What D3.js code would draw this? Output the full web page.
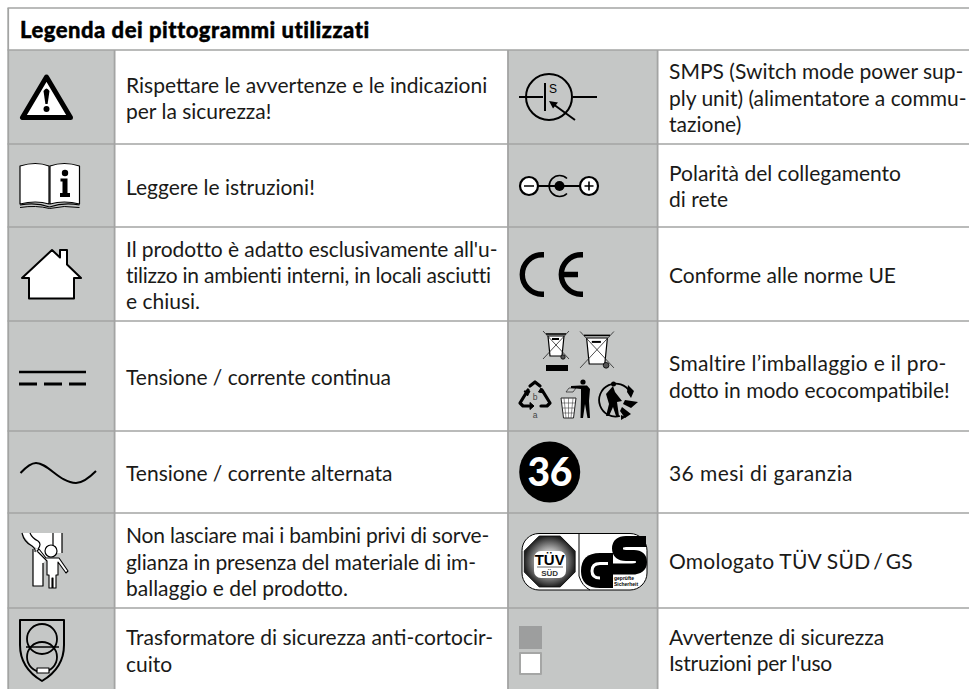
<!DOCTYPE html>
<html><head><meta charset="utf-8">
<script src="https://cdn.jsdelivr.net/npm/d3@7"></script>
<style>html,body{margin:0;padding:0;background:#fff}svg{display:block}</style>
</head><body><div id="c"></div>
<script>
const titleText = "Legenda dei pittogrammi utilizzati";
const leftLabels = [
  ["Rispettare le avvertenze e le indicazioni","per la sicurezza!"],
  ["Leggere le istruzioni!"],
  ["Il prodotto è adatto esclusivamente all'u-","tilizzo in ambienti interni, in locali asciutti","e chiusi."],
  ["Tensione / corrente continua"],
  ["Tensione / corrente alternata"],
  ["Non lasciare mai i bambini privi di sorve-","glianza in presenza del materiale di im-","ballaggio e del prodotto."],
  ["Trasformatore di sicurezza anti-cortocir-","cuito"]
];
const rightLabels = [
  ["SMPS (Switch mode power sup-","ply unit) (alimentatore a commu-","tazione)"],
  ["Polarità del collegamento","di rete"],
  ["Conforme alle norme UE"],
  ["Smaltire l’imballaggio e il pro-","dotto in modo ecocompatibile!"],
  ["36 mesi di garanzia"],
  ["Omologato TÜV SÜD\u2009/\u2009GS"],
  ["Avvertenze di sicurezza","Istruzioni per l'uso"]
];
const leftIcons = ["warning","book","house","dc","ac","child","shield"];
const rightIcons = ["smps","polarity","ce","recycle","m36","tuv","squares"];
const rowEdges = [50,144,227,321,431,513,608,700];

const W=969,H=689, GREY="#c5c7c6", LINE="#a3a4a3", INK="#1a1a18";
const FONT="Lato, 'Open Sans', sans-serif";
const svg=d3.select("#c").append("svg").attr("width",W).attr("height",H);
const rows=d3.range(7);
const rowTop=i=>rowEdges[i], rowBot=i=>rowEdges[i+1];
const colX={a:9,b:115,c:508,d:658};

// per-line right edges, to offset the substitute font's different letter widths
const lineEnds=new Map([
  ["tilizzo in ambienti interni, in locali asciutti",491],
  ["Non lasciare mai i bambini privi di sorve-",489],
  ["glianza in presenza del materiale di im-",476],
  ["Il prodotto è adatto esclusivamente all'u-",496],
  ["Smaltire l’imballaggio e il pro-",947],
  ["36 mesi di garanzia",853],
  ["Omologato TÜV SÜD\u2009/\u2009GS",913],
  ["Istruzioni per l'uso",832]
]);

// cells
const g=svg.append("g");
g.selectAll("rect.l").data(rows).join("rect").attr("class","l").attr("x",colX.a).attr("width",colX.b-colX.a).attr("y",rowTop).attr("height",i=>rowBot(i)-rowTop(i)).attr("fill",GREY);
g.selectAll("rect.r").data(rows).join("rect").attr("class","r").attr("x",colX.c).attr("width",colX.d-colX.c).attr("y",rowTop).attr("height",i=>rowBot(i)-rowTop(i)).attr("fill",GREY);
// lines
const hl=(y,w=1.6)=>g.append("line").attr("x1",7.5).attr("x2",W).attr("y1",y).attr("y2",y).attr("stroke",LINE).attr("stroke-width",w);
hl(8); rowEdges.slice(0,-1).forEach(y=>hl(y));
[[8.2,8],[114.6,50],[508,50],[657.6,50]].forEach(([x,y0])=>g.append("line").attr("x1",x).attr("x2",x).attr("y1",y0).attr("y2",H).attr("stroke",LINE).attr("stroke-width",1.8));

// title
svg.append("text").attr("x",20).attr("y",38).text(titleText).attr("font-family",FONT).attr("font-weight",900).attr("font-size",22).attr("letter-spacing",0.5).attr("fill","#000").attr("stroke","#000").attr("stroke-width",0.4);

// labels
function labels(data,x,off){
  const t=svg.append("g").attr("font-family",FONT).attr("font-size",21).attr("fill",INK);
  data.forEach((lines,i)=>{
    const cy=(rowTop(i)+Math.min(rowBot(i),691))/2;
    t.selectAll(null).data(lines).join("text").attr("x",x)
     .attr("y",(d,k)=>cy+off+(k-(lines.length-1)/2)*26.2).text(d=>d)
     .each(function(d){
       if(lineEnds.has(d)){
         const len=this.getComputedTextLength();
         d3.select(this).attr("letter-spacing",(lineEnds.get(d)-x-len)/d.length);
       }
     });
  });
}
labels(leftLabels,126,9);
labels(rightLabels,669,8.5);

const ic=svg.append("g").attr("stroke-linejoin","round");
const P=(d,o={})=>{const p=ic.append("path").attr("d",d).attr("fill",o.fill||"none").attr("stroke",o.stroke||"none").attr("stroke-width",o.w||0);if(o.cap)p.attr("stroke-linecap",o.cap);if(o.join)p.attr("stroke-linejoin",o.join);return p;};
const C=(x,y,r,o={})=>ic.append("circle").attr("cx",x).attr("cy",y).attr("r",r).attr("fill",o.fill||"none").attr("stroke",o.stroke||"none").attr("stroke-width",o.w||0);
const T=(s,x,y,sz,o={})=>ic.append("text").attr("x",x).attr("y",y).text(s).attr("font-size",sz).attr("font-family",o.font||"'Liberation Sans',sans-serif").attr("font-weight",o.wt||400).attr("text-anchor",o.a||"middle").attr("fill",o.fill||"#000");
const K="#000", Wh="#fff";
const icons={
 warning(){P("M46.5,77 L22.5,117.5 L70.5,117.5 Z",{fill:Wh,stroke:K,w:5});
   P("M43.5,91 Q46.5,86 49.5,91 L47.6,104 L45.4,104 Z",{fill:K});C(46.5,109,3,{fill:K});},
 book(){P("M20,166 Q36,161 49,166 L49,204 Q36,200 20,204 Z",{fill:Wh,stroke:K,w:1.2});
   P("M50,166 Q64,161 79.5,166 L79.5,204 Q64,200 50,204 Z",{fill:Wh,stroke:K,w:1.2});
   P("M20,205 Q36,202 49.5,207 Q64,202 79.5,205",{stroke:K,w:1.2});
   P("M20,207.5 Q36,205 49.5,208.5 Q64,205 79.5,207.5",{stroke:K,w:1});
   C(65,173,3.2,{fill:K});
   P("M60.5,178.5 H67.5 V193 H70 V197 H60 V193 H62.5 V181.5 H60.5 Z",{fill:K});},
 house(){P("M29,298.5 V278 H22 L52,250 L60,257.5 V250 H67 V264.5 L81,278 H74 V298.5 Z",{fill:Wh,stroke:K,w:2});},
 dc(){P("M19,372 H86",{stroke:K,w:2.6});P("M19,384 H37 M44,384 H62 M69,384 H86",{stroke:K,w:2.8});},
 ac(){P("M20.5,473 C27,466 31,463 36,463 C48,463 60,483 76,483 C83,483 90,477 96,471",{stroke:K,w:2});},
 child(){
   P("M22,533 H62 V553 H54 L43,563 V586 H33 V549 L38,549 Q28,544 22,533 Z",{fill:Wh});
   P("M33,549 V586 H43 V563 M62,533 V553 M53,533 V545",{stroke:K,w:1.2});
   P("M22,533 Q24,542 32,546 Q36,549 35,552 M30,533 Q32,538 38,541 Q42,544 38,549",{stroke:K,w:1.2});
   P("M37,551 L47,561 V575 H49 V588 H52 V578 H53 V588 H56 V575 H58 V562 L66,573 L68,571 L59,558 H46 L39,549 Z",{fill:Wh,stroke:K,w:1.1});
   C(51,551,6,{fill:Wh,stroke:K,w:1.2});},
 shield(){P("M20,620 H64 V645 Q64,668 42,681 Q20,668 20,645 Z",{stroke:K,w:2});
   C(42,639,15,{stroke:K,w:1.8});C(42,657,15,{stroke:K,w:1.8});
   P("M26,647 H59",{stroke:K,w:1.6});
   P("M37,668 H49 V673 H37 Z",{fill:Wh,stroke:K,w:1.2});},
 smps(){C(549,97,23,{stroke:K,w:2});P("M519,97 H543 M573,97 H597 M545,83 V111",{stroke:K,w:2});
   P("M575,120 L553,104",{stroke:K,w:2});P("M549,101 L558,102.5 L553,108.5 Z",{fill:K});
   T("S",553,93,12);},
 polarity(){P("M538,186 H580",{stroke:K,w:2});
   C(529,186,9,{fill:Wh,stroke:K,w:2.2});C(589,186,9,{fill:Wh,stroke:K,w:2.2});
   P("M524,186 H534 M584.5,186 H593.5 M589,181.5 V190.5",{stroke:K,w:1.6});
   P("M567,178.5 A10.5,10.5 0 1 0 567,193.5",{stroke:K,w:1.6});C(559.5,186,5,{fill:K});},
 ce(){P("M544,254.8 H542 A19.7,19.7 0 0 0 542,294.2 H544",{stroke:K,w:5.4});
   P("M583,254.8 H581 A19.7,19.7 0 0 0 581,294.2 H583 M561,274.5 H578",{stroke:K,w:5.4});},
 recycle(){
   const bin=(x,y,s)=>{const q=(a,b)=>`${x+a*s},${y+b*s}`;
     P(`M${q(-8,-10)} L${q(-6,10)} H${x+6*s} L${x+8*s},${y-10*s} Z`,{fill:Wh,stroke:K,w:1.2});
     P(`M${q(-10,-12)} H${x+10*s}`,{stroke:K,w:1.6});
     P(`M${q(-4,-7)} H${x+3*s}`,{stroke:K,w:2});
     C(x+7*s,y+11*s,2.2*s,{fill:"#555",stroke:K,w:.8});
     P(`M${q(-13,-15)} L${q(13,13)} M${q(13,-15)} L${q(-13,13)}`,{stroke:"#222",w:.8});};
   bin(556,346,1);bin(597,351,1.3);
   P("M546,365 H568 V371 H546 Z",{fill:K});
   P("M530,386 L535,382 L540,386 M542,390 L550,403 L547,406 H541 M529,406 H523 L520,403 L528,390",{stroke:K,w:3.2,cap:"round"});
   P("M541,388 L544,393 L538.5,392 Z M524,391 L530,391 L527.5,396 Z M534,406 L530,402.5 V409.5 Z",{fill:K,stroke:K,w:1});
   T("b",535,400,8.5,{fill:"#444"});T("a",535,418,8.5,{fill:"#444"});
   P("M561,398 H576 L573.5,418 H563.5 Z",{fill:Wh,stroke:"#222",w:1});
   P("M564,398 L566,418 M568.5,398 V418 M573,398 L571,418 M562,403 H575 M562.5,408 H574.5 M563,413 H574",{stroke:"#444",w:.6});
   P("M566,392 L569,388 H576 L573,392 Z",{stroke:"#333",w:.8});
   P("M571,386 L580,385.5 H587 L590,389 L589,401 L590,418 H587.5 L585,404 L583,418 H580.5 L581,398 V389 L571,388 Z",{fill:K});
   C(583,382,2.6,{fill:K});
   P("M630,392 A16.5,16.5 0 1 0 620,416",{stroke:K,w:1.8});
   P("M613,386 L606,394 L609,404 L606,416 H609 L613,407 L616,416 H619 L617,402 L622,401 L615,392 Z",{fill:K});C(613.5,384,2.5,{fill:K});
   P("M628,385 L634,391 L631,398 L627,392 Z M625,400 L638,402 L631,408 L623,404 Z M622,407 L631,414 L625,418 L620,411 Z",{fill:K});
   P("M621,415 L626,417 L621,420 Z",{fill:K});
 },
 m36(){C(549.7,472,30.5,{fill:K});T("36",549.7,486,39,{fill:Wh,wt:900,font:FONT}).attr("letter-spacing",-0.5);},
 tuv(){
   P("M539,533.5 H630 A17,17 0 0 1 647,550.5 V573 A17,17 0 0 1 630,590 H539 A17,17 0 0 1 522,573 V550.5 A17,17 0 0 1 539,533.5 Z",{fill:Wh,stroke:K,w:1});
   P("M579,533.5 V576 Q582,586 590,590",{stroke:K,w:1});
   const R=27.5,oc=d3.range(8).map(i=>{const a=Math.PI/8+i*Math.PI/4;return [549.7+R*Math.cos(a),561.5+R*Math.sin(a)];});
   const defs=svg.append("defs");
   const gr=defs.append("radialGradient").attr("id","oct");
   gr.append("stop").attr("offset","45%").attr("stop-color","#bbb");gr.append("stop").attr("offset","100%").attr("stop-color","#222");
   P("M"+oc.join("L")+"Z",{fill:"url(#oct)"}).attr("stroke","#111").attr("stroke-width",1);
   ic.append("rect").attr("x",534).attr("y",551).attr("width",32).attr("height",27).attr("rx",7).attr("fill",Wh);
   T("TÜV",549.7,565,15,{wt:700});
   P("M537,567 H563",{stroke:"#666",w:1});
   T("SÜD",549.7,576,8,{wt:700,fill:"#333"});
   P("M613,553 H600 Q581,553 581,571 Q581,588 600,588 H613 Z",{fill:K});
   P("M608,563.5 H600 Q592,563.5 592,571 Q592,578 600,578",{stroke:Wh,w:3});
   P("M646,541.5 H626 Q617.5,541.5 617.5,548.5 Q617.5,555.5 626,555.5 H634 Q641.5,555.5 641.5,562 Q641.5,569 632,569 H613",{stroke:K,w:11});
   T("geprüfte",614,580,5,{a:"start",wt:700});T("Sicherheit",614,585.5,5,{a:"start",wt:700});
 },
 squares(){
   ic.append("rect").attr("x",519).attr("y",626).attr("width",23).attr("height",23).attr("fill","#9d9e9e");
   ic.append("rect").attr("x",520).attr("y",653).attr("width",21).attr("height",21).attr("fill",Wh).attr("stroke","#a5a6a5").attr("stroke-width",2);}
};
leftIcons.forEach(k=>icons[k]());
rightIcons.forEach(k=>icons[k]());
</script></body></html>
